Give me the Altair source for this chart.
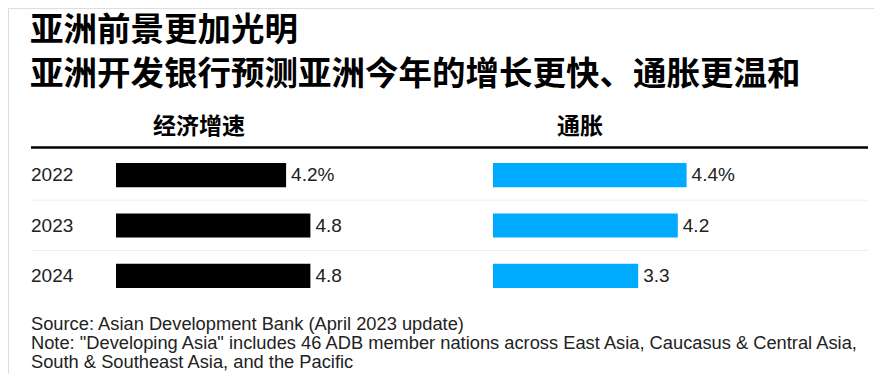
import altair as alt
import pandas as pd

# ---- data ----
years = ["2022", "2023", "2024"]
growth = [4.2, 4.8, 4.8]
growth_labels = ["4.2%", "4.8", "4.8"]
inflation = [4.4, 4.2, 3.3]
inflation_labels = ["4.4%", "4.2", "3.3"]

title_lines = ["亚洲前景更加光明", "亚洲开发银行预测亚洲今年的增长更快、通胀更温和"]
panel_titles = ["经济增速", "通胀"]
footer_lines = [
    "Source: Asian Development Bank (April 2023 update)",
    "Note: \"Developing Asia\" includes 46 ADB member nations across East Asia, Caucasus & Central Asia,",
    "South & Southeast Asia, and the Pacific",
]

df = pd.DataFrame({
    "year": years,
    "growth": growth,
    "glabel": growth_labels,
    "inflation": inflation,
    "ilabel": inflation_labels,
})
dummy = pd.DataFrame({"a": [0]})

CJK = "Noto Sans CJK SC"
LAT = "Liberation Sans"
TXT = "#222222"
BLUE = "#00AAFF"

yscale = alt.Scale(domain=years, range=[142, 293], paddingInner=0.52, paddingOuter=0.26)
Y = alt.Y("year:N", scale=yscale, axis=None)
xl = alt.Scale(domain=[0, 5], range=[108, 310.5], nice=False, zero=True)
xr = alt.Scale(domain=[0, 5], range=[485, 705], nice=False, zero=True)

base = alt.Chart(df)

left_bars = base.mark_bar(color="black").encode(
    x=alt.X("growth:Q", scale=xl, axis=None), y=Y)
left_text = base.mark_text(align="left", baseline="middle", dx=5, font=LAT,
                           fontSize=19, color=TXT).encode(
    x=alt.X("growth:Q", scale=xl, axis=None), y=Y, text="glabel:N")
right_bars = base.mark_bar(color=BLUE).encode(
    x=alt.X("inflation:Q", scale=xr, axis=None), y=Y)
right_text = base.mark_text(align="left", baseline="middle", dx=5, font=LAT,
                            fontSize=19, color=TXT).encode(
    x=alt.X("inflation:Q", scale=xr, axis=None), y=Y, text="ilabel:N")
year_text = base.mark_text(align="left", baseline="middle", font=LAT,
                           fontSize=19, color=TXT).encode(
    x=alt.value(23), y=Y, text="year:N")

sep = alt.Chart(df[df["year"] != years[-1]]).mark_rule(
    color="#eeeeee", strokeWidth=1, yOffset=25).encode(
    x=alt.value(23), x2=alt.value(860), y=Y)

top_rule = alt.Chart(dummy).mark_rule(color="black", strokeWidth=2.4).encode(
    x=alt.value(23), x2=alt.value(860), y=alt.value(139.5))

layers = [sep, top_rule, left_bars, left_text, right_bars, right_text, year_text]

# titles
for txt, yy in zip(title_lines, [23, 67]):
    layers.append(alt.Chart(dummy).mark_text(
        text=txt, align="left", baseline="middle", font=CJK, fontSize=33.5,
        fontWeight="bold", color="black").encode(x=alt.value(22), y=alt.value(yy)))

for txt, xx in zip(panel_titles, [191, 572]):
    layers.append(alt.Chart(dummy).mark_text(
        text=txt, align="center", baseline="middle", font=CJK, fontSize=23,
        fontWeight="bold", color="black").encode(x=alt.value(xx), y=alt.value(119)))

for txt, yy in zip(footer_lines, [317, 336, 355]):
    layers.append(alt.Chart(dummy).mark_text(
        text=txt, align="left", baseline="middle", font=LAT, fontSize=18.3,
        color=TXT).encode(x=alt.value(23), y=alt.value(yy)))

chart = alt.layer(*layers).resolve_scale(x="independent", y="shared").properties(
    width=866, height=366, autosize=alt.AutoSizeParams(type="none"), padding=0
).configure_view(stroke=None).configure(background="white")

chart.save("out.html", embed_options={"renderer": "svg", "actions": False})
